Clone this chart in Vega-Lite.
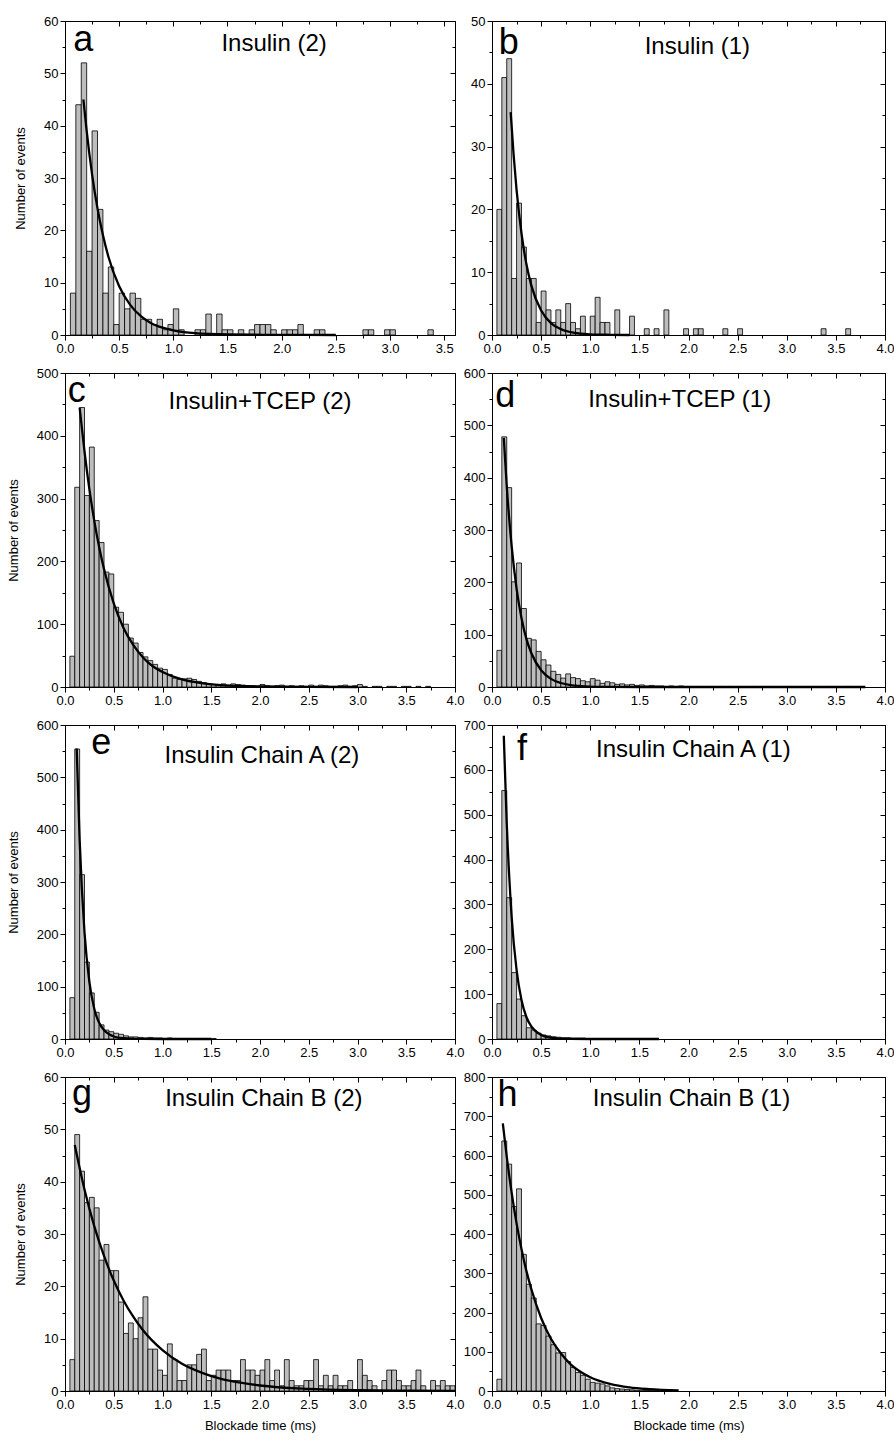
{
"$schema": "https://vega.github.io/schema/vega-lite/v6.json",
"padding": {"left": 6, "top": 14, "right": 2, "bottom": 2},
"background": "white",
"datasets": {
"bars": [
{"p":"a","x":0.05,"x2":0.1,"n":8},{"p":"a","x":0.1,"x2":0.15,"n":44},{"p":"a","x":0.15,"x2":0.2,"n":52},{"p":"a","x":0.2,"x2":0.25,"n":16},{"p":"a","x":0.25,"x2":0.3,"n":39},{"p":"a","x":0.3,"x2":0.35,"n":24},{"p":"a","x":0.35,"x2":0.4,"n":8},{"p":"a","x":0.4,"x2":0.45,"n":13},{"p":"a","x":0.45,"x2":0.5,"n":2},{"p":"a","x":0.5,"x2":0.55,"n":8},{"p":"a","x":0.55,"x2":0.6,"n":5},{"p":"a","x":0.6,"x2":0.65,"n":8},{"p":"a","x":0.65,"x2":0.7,"n":7},{"p":"a","x":0.7,"x2":0.75,"n":3},{"p":"a","x":0.75,"x2":0.8,"n":3},{"p":"a","x":0.8,"x2":0.85,"n":2},{"p":"a","x":0.85,"x2":0.9,"n":3},{"p":"a","x":0.9,"x2":0.95,"n":1},{"p":"a","x":0.95,"x2":1,"n":2},{"p":"a","x":1,"x2":1.05,"n":5},{"p":"a","x":1.05,"x2":1.1,"n":1},{"p":"a","x":1.2,"x2":1.25,"n":1},{"p":"a","x":1.25,"x2":1.3,"n":1},{"p":"a","x":1.3,"x2":1.35,"n":4},{"p":"a","x":1.4,"x2":1.45,"n":4},{"p":"a","x":1.45,"x2":1.5,"n":1},{"p":"a","x":1.5,"x2":1.55,"n":1},{"p":"a","x":1.6,"x2":1.65,"n":1},{"p":"a","x":1.7,"x2":1.75,"n":1},{"p":"a","x":1.75,"x2":1.8,"n":2},{"p":"a","x":1.8,"x2":1.85,"n":2},{"p":"a","x":1.85,"x2":1.9,"n":2},{"p":"a","x":1.9,"x2":1.95,"n":1},{"p":"a","x":2,"x2":2.05,"n":1},{"p":"a","x":2.05,"x2":2.1,"n":1},{"p":"a","x":2.1,"x2":2.15,"n":1},{"p":"a","x":2.15,"x2":2.2,"n":2},{"p":"a","x":2.3,"x2":2.35,"n":1},{"p":"a","x":2.35,"x2":2.4,"n":1},{"p":"a","x":2.75,"x2":2.8,"n":1},{"p":"a","x":2.8,"x2":2.85,"n":1},{"p":"a","x":2.95,"x2":3,"n":1},{"p":"a","x":3,"x2":3.05,"n":1},{"p":"a","x":3.35,"x2":3.4,"n":1},
{"p":"b","x":0.05,"x2":0.1,"n":20},{"p":"b","x":0.1,"x2":0.15,"n":41},{"p":"b","x":0.15,"x2":0.2,"n":44},{"p":"b","x":0.2,"x2":0.25,"n":9},{"p":"b","x":0.25,"x2":0.3,"n":21},{"p":"b","x":0.3,"x2":0.35,"n":14},{"p":"b","x":0.35,"x2":0.4,"n":9},{"p":"b","x":0.4,"x2":0.45,"n":9},{"p":"b","x":0.45,"x2":0.5,"n":2},{"p":"b","x":0.5,"x2":0.55,"n":7},{"p":"b","x":0.55,"x2":0.6,"n":4},{"p":"b","x":0.6,"x2":0.65,"n":2},{"p":"b","x":0.65,"x2":0.7,"n":4},{"p":"b","x":0.7,"x2":0.75,"n":2},{"p":"b","x":0.75,"x2":0.8,"n":5},{"p":"b","x":0.8,"x2":0.85,"n":2},{"p":"b","x":0.85,"x2":0.9,"n":1},{"p":"b","x":0.9,"x2":0.95,"n":3},{"p":"b","x":1,"x2":1.05,"n":3},{"p":"b","x":1.05,"x2":1.1,"n":6},{"p":"b","x":1.1,"x2":1.15,"n":2},{"p":"b","x":1.15,"x2":1.2,"n":2},{"p":"b","x":1.25,"x2":1.3,"n":4},{"p":"b","x":1.4,"x2":1.45,"n":3},{"p":"b","x":1.55,"x2":1.6,"n":1},{"p":"b","x":1.65,"x2":1.7,"n":1},{"p":"b","x":1.75,"x2":1.8,"n":4},{"p":"b","x":1.95,"x2":2,"n":1},{"p":"b","x":2.05,"x2":2.1,"n":1},{"p":"b","x":2.1,"x2":2.15,"n":1},{"p":"b","x":2.35,"x2":2.4,"n":1},{"p":"b","x":2.5,"x2":2.55,"n":1},{"p":"b","x":3.35,"x2":3.4,"n":1},{"p":"b","x":3.6,"x2":3.65,"n":1},
{"p":"c","x":0.05,"x2":0.1,"n":49},{"p":"c","x":0.1,"x2":0.15,"n":318},{"p":"c","x":0.15,"x2":0.2,"n":445},{"p":"c","x":0.2,"x2":0.25,"n":305},{"p":"c","x":0.25,"x2":0.3,"n":382},{"p":"c","x":0.3,"x2":0.35,"n":265},{"p":"c","x":0.35,"x2":0.4,"n":230},{"p":"c","x":0.4,"x2":0.45,"n":183},{"p":"c","x":0.45,"x2":0.5,"n":180},{"p":"c","x":0.5,"x2":0.55,"n":127},{"p":"c","x":0.55,"x2":0.6,"n":119},{"p":"c","x":0.6,"x2":0.65,"n":100},{"p":"c","x":0.65,"x2":0.7,"n":78},{"p":"c","x":0.7,"x2":0.75,"n":70},{"p":"c","x":0.75,"x2":0.8,"n":55},{"p":"c","x":0.8,"x2":0.85,"n":48},{"p":"c","x":0.85,"x2":0.9,"n":42},{"p":"c","x":0.9,"x2":0.95,"n":36},{"p":"c","x":0.95,"x2":1,"n":30},{"p":"c","x":1,"x2":1.05,"n":28},{"p":"c","x":1.05,"x2":1.1,"n":20},{"p":"c","x":1.1,"x2":1.15,"n":14},{"p":"c","x":1.15,"x2":1.2,"n":12},{"p":"c","x":1.2,"x2":1.25,"n":13},{"p":"c","x":1.25,"x2":1.3,"n":14},{"p":"c","x":1.3,"x2":1.35,"n":12},{"p":"c","x":1.35,"x2":1.4,"n":9},{"p":"c","x":1.4,"x2":1.45,"n":7},{"p":"c","x":1.45,"x2":1.5,"n":5},{"p":"c","x":1.5,"x2":1.55,"n":4},{"p":"c","x":1.55,"x2":1.6,"n":3},{"p":"c","x":1.6,"x2":1.65,"n":5},{"p":"c","x":1.65,"x2":1.7,"n":3},{"p":"c","x":1.7,"x2":1.75,"n":5},{"p":"c","x":1.75,"x2":1.8,"n":4},{"p":"c","x":1.8,"x2":1.85,"n":3},{"p":"c","x":1.85,"x2":1.9,"n":2},{"p":"c","x":1.9,"x2":1.95,"n":2},{"p":"c","x":1.95,"x2":2,"n":1},{"p":"c","x":2,"x2":2.05,"n":4},{"p":"c","x":2.05,"x2":2.1,"n":2},{"p":"c","x":2.1,"x2":2.15,"n":1},{"p":"c","x":2.15,"x2":2.2,"n":2},{"p":"c","x":2.2,"x2":2.25,"n":3},{"p":"c","x":2.25,"x2":2.3,"n":1},{"p":"c","x":2.3,"x2":2.35,"n":2},{"p":"c","x":2.35,"x2":2.4,"n":1},{"p":"c","x":2.4,"x2":2.45,"n":2},{"p":"c","x":2.45,"x2":2.5,"n":1},{"p":"c","x":2.5,"x2":2.55,"n":3},{"p":"c","x":2.55,"x2":2.6,"n":1},{"p":"c","x":2.6,"x2":2.65,"n":3},{"p":"c","x":2.65,"x2":2.7,"n":2},{"p":"c","x":2.7,"x2":2.75,"n":1},{"p":"c","x":2.75,"x2":2.8,"n":1},{"p":"c","x":2.8,"x2":2.85,"n":2},{"p":"c","x":2.85,"x2":2.9,"n":3},{"p":"c","x":2.9,"x2":2.95,"n":1},{"p":"c","x":2.95,"x2":3,"n":2},{"p":"c","x":3,"x2":3.05,"n":4},{"p":"c","x":3.05,"x2":3.1,"n":1},{"p":"c","x":3.15,"x2":3.2,"n":1},{"p":"c","x":3.2,"x2":3.25,"n":1},{"p":"c","x":3.3,"x2":3.35,"n":1},{"p":"c","x":3.35,"x2":3.4,"n":1},{"p":"c","x":3.45,"x2":3.5,"n":1},{"p":"c","x":3.5,"x2":3.55,"n":1},{"p":"c","x":3.6,"x2":3.65,"n":1},{"p":"c","x":3.7,"x2":3.75,"n":1},
{"p":"d","x":0.05,"x2":0.1,"n":70},{"p":"d","x":0.1,"x2":0.15,"n":478},{"p":"d","x":0.15,"x2":0.2,"n":381},{"p":"d","x":0.2,"x2":0.25,"n":201},{"p":"d","x":0.25,"x2":0.3,"n":237},{"p":"d","x":0.3,"x2":0.35,"n":150},{"p":"d","x":0.35,"x2":0.4,"n":93},{"p":"d","x":0.4,"x2":0.45,"n":90},{"p":"d","x":0.45,"x2":0.5,"n":68},{"p":"d","x":0.5,"x2":0.55,"n":52},{"p":"d","x":0.55,"x2":0.6,"n":42},{"p":"d","x":0.6,"x2":0.65,"n":30},{"p":"d","x":0.65,"x2":0.7,"n":24},{"p":"d","x":0.7,"x2":0.75,"n":17},{"p":"d","x":0.75,"x2":0.8,"n":25},{"p":"d","x":0.8,"x2":0.85,"n":18},{"p":"d","x":0.85,"x2":0.9,"n":16},{"p":"d","x":0.9,"x2":0.95,"n":12},{"p":"d","x":0.95,"x2":1,"n":10},{"p":"d","x":1,"x2":1.05,"n":16},{"p":"d","x":1.05,"x2":1.1,"n":13},{"p":"d","x":1.1,"x2":1.15,"n":7},{"p":"d","x":1.15,"x2":1.2,"n":10},{"p":"d","x":1.2,"x2":1.25,"n":8},{"p":"d","x":1.25,"x2":1.3,"n":5},{"p":"d","x":1.3,"x2":1.35,"n":6},{"p":"d","x":1.35,"x2":1.4,"n":4},{"p":"d","x":1.4,"x2":1.45,"n":5},{"p":"d","x":1.45,"x2":1.5,"n":3},{"p":"d","x":1.5,"x2":1.55,"n":4},{"p":"d","x":1.55,"x2":1.6,"n":2},{"p":"d","x":1.6,"x2":1.65,"n":3},{"p":"d","x":1.65,"x2":1.7,"n":2},{"p":"d","x":1.7,"x2":1.75,"n":2},{"p":"d","x":1.75,"x2":1.8,"n":1},{"p":"d","x":1.8,"x2":1.85,"n":2},{"p":"d","x":1.85,"x2":1.9,"n":1},{"p":"d","x":1.9,"x2":1.95,"n":2},{"p":"d","x":1.95,"x2":2,"n":1},{"p":"d","x":2,"x2":2.05,"n":1},{"p":"d","x":2.1,"x2":2.15,"n":1},{"p":"d","x":2.2,"x2":2.25,"n":1},{"p":"d","x":2.3,"x2":2.35,"n":1},{"p":"d","x":2.4,"x2":2.45,"n":1},{"p":"d","x":2.5,"x2":2.55,"n":1},{"p":"d","x":2.65,"x2":2.7,"n":1},{"p":"d","x":2.8,"x2":2.85,"n":1},{"p":"d","x":3,"x2":3.05,"n":1},{"p":"d","x":3.2,"x2":3.25,"n":1},{"p":"d","x":3.4,"x2":3.45,"n":1},{"p":"d","x":3.6,"x2":3.65,"n":1},
{"p":"e","x":0.05,"x2":0.1,"n":79},{"p":"e","x":0.1,"x2":0.15,"n":554},{"p":"e","x":0.15,"x2":0.2,"n":314},{"p":"e","x":0.2,"x2":0.25,"n":147},{"p":"e","x":0.25,"x2":0.3,"n":88},{"p":"e","x":0.3,"x2":0.35,"n":51},{"p":"e","x":0.35,"x2":0.4,"n":27},{"p":"e","x":0.4,"x2":0.45,"n":17},{"p":"e","x":0.45,"x2":0.5,"n":14},{"p":"e","x":0.5,"x2":0.55,"n":11},{"p":"e","x":0.55,"x2":0.6,"n":9},{"p":"e","x":0.6,"x2":0.65,"n":6},{"p":"e","x":0.65,"x2":0.7,"n":4},{"p":"e","x":0.7,"x2":0.75,"n":4},{"p":"e","x":0.75,"x2":0.8,"n":3},{"p":"e","x":0.8,"x2":0.85,"n":2},{"p":"e","x":0.85,"x2":0.9,"n":3},{"p":"e","x":0.9,"x2":0.95,"n":2},{"p":"e","x":0.95,"x2":1,"n":2},{"p":"e","x":1,"x2":1.05,"n":1},{"p":"e","x":1.05,"x2":1.1,"n":2},{"p":"e","x":1.1,"x2":1.15,"n":1},{"p":"e","x":1.15,"x2":1.2,"n":1},{"p":"e","x":1.2,"x2":1.25,"n":1},{"p":"e","x":1.25,"x2":1.3,"n":1},{"p":"e","x":1.35,"x2":1.4,"n":1},{"p":"e","x":1.4,"x2":1.45,"n":1},{"p":"e","x":1.5,"x2":1.55,"n":1},
{"p":"f","x":0.05,"x2":0.1,"n":79},{"p":"f","x":0.1,"x2":0.15,"n":554},{"p":"f","x":0.15,"x2":0.2,"n":315},{"p":"f","x":0.2,"x2":0.25,"n":148},{"p":"f","x":0.25,"x2":0.3,"n":89},{"p":"f","x":0.3,"x2":0.35,"n":52},{"p":"f","x":0.35,"x2":0.4,"n":25},{"p":"f","x":0.4,"x2":0.45,"n":20},{"p":"f","x":0.45,"x2":0.5,"n":13},{"p":"f","x":0.5,"x2":0.55,"n":9},{"p":"f","x":0.55,"x2":0.6,"n":7},{"p":"f","x":0.6,"x2":0.65,"n":5},{"p":"f","x":0.65,"x2":0.7,"n":4},{"p":"f","x":0.7,"x2":0.75,"n":3},{"p":"f","x":0.75,"x2":0.8,"n":3},{"p":"f","x":0.8,"x2":0.85,"n":2},{"p":"f","x":0.85,"x2":0.9,"n":2},{"p":"f","x":0.9,"x2":0.95,"n":2},{"p":"f","x":0.95,"x2":1,"n":1},{"p":"f","x":1,"x2":1.05,"n":1},{"p":"f","x":1.05,"x2":1.1,"n":1},{"p":"f","x":1.1,"x2":1.15,"n":1},{"p":"f","x":1.2,"x2":1.25,"n":1},{"p":"f","x":1.3,"x2":1.35,"n":1},{"p":"f","x":1.4,"x2":1.45,"n":1},{"p":"f","x":1.5,"x2":1.55,"n":1},
{"p":"g","x":0.05,"x2":0.1,"n":6},{"p":"g","x":0.1,"x2":0.15,"n":49},{"p":"g","x":0.15,"x2":0.2,"n":42},{"p":"g","x":0.2,"x2":0.25,"n":36},{"p":"g","x":0.25,"x2":0.3,"n":37},{"p":"g","x":0.3,"x2":0.35,"n":35},{"p":"g","x":0.35,"x2":0.4,"n":25},{"p":"g","x":0.4,"x2":0.45,"n":28},{"p":"g","x":0.45,"x2":0.5,"n":23},{"p":"g","x":0.5,"x2":0.55,"n":23},{"p":"g","x":0.55,"x2":0.6,"n":17},{"p":"g","x":0.6,"x2":0.65,"n":11},{"p":"g","x":0.65,"x2":0.7,"n":13},{"p":"g","x":0.7,"x2":0.75,"n":10},{"p":"g","x":0.75,"x2":0.8,"n":14},{"p":"g","x":0.8,"x2":0.85,"n":18},{"p":"g","x":0.85,"x2":0.9,"n":8},{"p":"g","x":0.9,"x2":0.95,"n":8},{"p":"g","x":0.95,"x2":1,"n":4},{"p":"g","x":1,"x2":1.05,"n":3},{"p":"g","x":1.05,"x2":1.1,"n":9},{"p":"g","x":1.1,"x2":1.15,"n":6},{"p":"g","x":1.15,"x2":1.2,"n":2},{"p":"g","x":1.2,"x2":1.25,"n":2},{"p":"g","x":1.25,"x2":1.3,"n":5},{"p":"g","x":1.3,"x2":1.35,"n":5},{"p":"g","x":1.35,"x2":1.4,"n":7},{"p":"g","x":1.4,"x2":1.45,"n":8},{"p":"g","x":1.45,"x2":1.5,"n":2},{"p":"g","x":1.5,"x2":1.55,"n":3},{"p":"g","x":1.55,"x2":1.6,"n":4},{"p":"g","x":1.6,"x2":1.65,"n":4},{"p":"g","x":1.65,"x2":1.7,"n":4},{"p":"g","x":1.7,"x2":1.75,"n":2},{"p":"g","x":1.75,"x2":1.8,"n":2},{"p":"g","x":1.8,"x2":1.85,"n":6},{"p":"g","x":1.85,"x2":1.9,"n":4},{"p":"g","x":1.9,"x2":1.95,"n":4},{"p":"g","x":1.95,"x2":2,"n":3},{"p":"g","x":2,"x2":2.05,"n":4},{"p":"g","x":2.05,"x2":2.1,"n":6},{"p":"g","x":2.1,"x2":2.15,"n":2},{"p":"g","x":2.15,"x2":2.2,"n":4},{"p":"g","x":2.2,"x2":2.25,"n":1},{"p":"g","x":2.25,"x2":2.3,"n":6},{"p":"g","x":2.3,"x2":2.35,"n":2},{"p":"g","x":2.35,"x2":2.4,"n":1},{"p":"g","x":2.4,"x2":2.45,"n":1},{"p":"g","x":2.45,"x2":2.5,"n":2},{"p":"g","x":2.5,"x2":2.55,"n":2},{"p":"g","x":2.55,"x2":2.6,"n":6},{"p":"g","x":2.6,"x2":2.65,"n":1},{"p":"g","x":2.65,"x2":2.7,"n":3},{"p":"g","x":2.7,"x2":2.75,"n":1},{"p":"g","x":2.75,"x2":2.8,"n":3},{"p":"g","x":2.8,"x2":2.85,"n":1},{"p":"g","x":2.85,"x2":2.9,"n":1},{"p":"g","x":2.9,"x2":2.95,"n":2},{"p":"g","x":3,"x2":3.05,"n":6},{"p":"g","x":3.05,"x2":3.1,"n":3},{"p":"g","x":3.1,"x2":3.15,"n":2},{"p":"g","x":3.15,"x2":3.2,"n":1},{"p":"g","x":3.25,"x2":3.3,"n":2},{"p":"g","x":3.3,"x2":3.35,"n":4},{"p":"g","x":3.35,"x2":3.4,"n":4},{"p":"g","x":3.4,"x2":3.45,"n":2},{"p":"g","x":3.45,"x2":3.5,"n":1},{"p":"g","x":3.5,"x2":3.55,"n":1},{"p":"g","x":3.55,"x2":3.6,"n":2},{"p":"g","x":3.6,"x2":3.65,"n":4},{"p":"g","x":3.65,"x2":3.7,"n":1},{"p":"g","x":3.75,"x2":3.8,"n":2},{"p":"g","x":3.8,"x2":3.85,"n":1},{"p":"g","x":3.85,"x2":3.9,"n":2},{"p":"g","x":3.9,"x2":3.95,"n":1},{"p":"g","x":3.95,"x2":4,"n":1},
{"p":"h","x":0.05,"x2":0.1,"n":30},{"p":"h","x":0.1,"x2":0.15,"n":637},{"p":"h","x":0.15,"x2":0.2,"n":578},{"p":"h","x":0.2,"x2":0.25,"n":470},{"p":"h","x":0.25,"x2":0.3,"n":515},{"p":"h","x":0.3,"x2":0.35,"n":348},{"p":"h","x":0.35,"x2":0.4,"n":272},{"p":"h","x":0.4,"x2":0.45,"n":237},{"p":"h","x":0.45,"x2":0.5,"n":171},{"p":"h","x":0.5,"x2":0.55,"n":167},{"p":"h","x":0.55,"x2":0.6,"n":140},{"p":"h","x":0.6,"x2":0.65,"n":118},{"p":"h","x":0.65,"x2":0.7,"n":97},{"p":"h","x":0.7,"x2":0.75,"n":98},{"p":"h","x":0.75,"x2":0.8,"n":75},{"p":"h","x":0.8,"x2":0.85,"n":60},{"p":"h","x":0.85,"x2":0.9,"n":47},{"p":"h","x":0.9,"x2":0.95,"n":40},{"p":"h","x":0.95,"x2":1,"n":30},{"p":"h","x":1,"x2":1.05,"n":22},{"p":"h","x":1.05,"x2":1.1,"n":20},{"p":"h","x":1.1,"x2":1.15,"n":18},{"p":"h","x":1.15,"x2":1.2,"n":13},{"p":"h","x":1.2,"x2":1.25,"n":8},{"p":"h","x":1.25,"x2":1.3,"n":6},{"p":"h","x":1.3,"x2":1.35,"n":5},{"p":"h","x":1.35,"x2":1.4,"n":4},{"p":"h","x":1.4,"x2":1.45,"n":3},{"p":"h","x":1.45,"x2":1.5,"n":2},{"p":"h","x":1.5,"x2":1.55,"n":2},{"p":"h","x":1.55,"x2":1.6,"n":1},{"p":"h","x":1.6,"x2":1.65,"n":1},{"p":"h","x":1.65,"x2":1.7,"n":1},{"p":"h","x":1.75,"x2":1.8,"n":1}
],
"fits": [
{"p":"a","x":0.17,"y":45},{"p":"a","x":0.2,"y":39},{"p":"a","x":0.25,"y":30.7},{"p":"a","x":0.3,"y":24.2},{"p":"a","x":0.35,"y":19.1},{"p":"a","x":0.4,"y":15},{"p":"a","x":0.5,"y":9.3},{"p":"a","x":0.6,"y":5.8},{"p":"a","x":0.7,"y":3.6},{"p":"a","x":0.8,"y":2.2},{"p":"a","x":0.9,"y":1.4},{"p":"a","x":1,"y":0.9},{"p":"a","x":1.2,"y":0.35},{"p":"a","x":1.5,"y":0.1},{"p":"a","x":2,"y":0.02},{"p":"a","x":2.5,"y":0},
{"p":"b","x":0.19,"y":35.5},{"p":"b","x":0.22,"y":28.7},{"p":"b","x":0.25,"y":23.1},{"p":"b","x":0.3,"y":16.2},{"p":"b","x":0.35,"y":11.3},{"p":"b","x":0.4,"y":7.9},{"p":"b","x":0.5,"y":3.9},{"p":"b","x":0.6,"y":1.9},{"p":"b","x":0.7,"y":0.93},{"p":"b","x":0.8,"y":0.46},{"p":"b","x":0.9,"y":0.22},{"p":"b","x":1,"y":0.11},{"p":"b","x":1.2,"y":0.03},{"p":"b","x":1.4,"y":0},
{"p":"c","x":0.15,"y":445},{"p":"c","x":0.2,"y":375},{"p":"c","x":0.25,"y":315},{"p":"c","x":0.3,"y":265},{"p":"c","x":0.35,"y":223},{"p":"c","x":0.4,"y":188},{"p":"c","x":0.5,"y":133},{"p":"c","x":0.6,"y":94},{"p":"c","x":0.7,"y":67},{"p":"c","x":0.8,"y":47},{"p":"c","x":0.9,"y":33},{"p":"c","x":1,"y":24},{"p":"c","x":1.2,"y":12},{"p":"c","x":1.4,"y":6},{"p":"c","x":1.6,"y":3},{"p":"c","x":2,"y":0.8},{"p":"c","x":2.5,"y":0.2},{"p":"c","x":3,"y":0},
{"p":"d","x":0.12,"y":476},{"p":"d","x":0.15,"y":384},{"p":"d","x":0.2,"y":269},{"p":"d","x":0.25,"y":188},{"p":"d","x":0.3,"y":132},{"p":"d","x":0.35,"y":92},{"p":"d","x":0.4,"y":65},{"p":"d","x":0.5,"y":32},{"p":"d","x":0.6,"y":15.5},{"p":"d","x":0.7,"y":7.6},{"p":"d","x":0.8,"y":3.7},{"p":"d","x":1,"y":0.9},{"p":"d","x":1.2,"y":0.2},{"p":"d","x":1.5,"y":0},{"p":"d","x":3.8,"y":0},
{"p":"e","x":0.12,"y":555},{"p":"e","x":0.15,"y":381},{"p":"e","x":0.2,"y":204},{"p":"e","x":0.25,"y":109},{"p":"e","x":0.3,"y":58},{"p":"e","x":0.35,"y":31},{"p":"e","x":0.4,"y":17},{"p":"e","x":0.5,"y":4.8},{"p":"e","x":0.6,"y":1.4},{"p":"e","x":0.7,"y":0.4},{"p":"e","x":0.8,"y":0.1},{"p":"e","x":1,"y":0},{"p":"e","x":1.5,"y":0},
{"p":"f","x":0.12,"y":676},{"p":"f","x":0.15,"y":481},{"p":"f","x":0.2,"y":272},{"p":"f","x":0.25,"y":154},{"p":"f","x":0.3,"y":87},{"p":"f","x":0.35,"y":49},{"p":"f","x":0.4,"y":28},{"p":"f","x":0.5,"y":9},{"p":"f","x":0.6,"y":2.9},{"p":"f","x":0.7,"y":0.9},{"p":"f","x":0.8,"y":0.3},{"p":"f","x":1,"y":0},{"p":"f","x":1.7,"y":0},
{"p":"g","x":0.1,"y":47},{"p":"g","x":0.2,"y":38.5},{"p":"g","x":0.3,"y":31.5},{"p":"g","x":0.4,"y":25.8},{"p":"g","x":0.5,"y":21.1},{"p":"g","x":0.6,"y":17.3},{"p":"g","x":0.7,"y":14.2},{"p":"g","x":0.8,"y":11.6},{"p":"g","x":1,"y":7.8},{"p":"g","x":1.2,"y":5.2},{"p":"g","x":1.4,"y":3.5},{"p":"g","x":1.6,"y":2.3},{"p":"g","x":1.8,"y":1.6},{"p":"g","x":2,"y":1.05},{"p":"g","x":2.5,"y":0.4},{"p":"g","x":3,"y":0.14},{"p":"g","x":3.5,"y":0.05},{"p":"g","x":4,"y":0.02},
{"p":"h","x":0.11,"y":682},{"p":"h","x":0.15,"y":597},{"p":"h","x":0.2,"y":505},{"p":"h","x":0.25,"y":427},{"p":"h","x":0.3,"y":362},{"p":"h","x":0.35,"y":306},{"p":"h","x":0.4,"y":260},{"p":"h","x":0.5,"y":186},{"p":"h","x":0.6,"y":133},{"p":"h","x":0.7,"y":96},{"p":"h","x":0.8,"y":68},{"p":"h","x":0.9,"y":49},{"p":"h","x":1,"y":35},{"p":"h","x":1.2,"y":18},{"p":"h","x":1.4,"y":9},{"p":"h","x":1.6,"y":4.7},{"p":"h","x":1.9,"y":1.7}
]
},
"columns": 2,
"spacing": {"row": 38, "column": 37},
"bounds": "flush",
"concat": [
{"width": 390, "height": 314, "layer": [
{"data": {"name": "bars"}, "transform": [{"filter": "datum.p == 'a'"}], "mark": {"type": "rect", "fill": "#bdbdbd", "stroke": "#000000", "strokeWidth": 0.8},
"encoding": {"x": {"field": "x", "type": "quantitative", "scale": {"domain": [0, 3.6], "nice": false, "zero": false}, "axis": {"orient": "bottom", "values": [0,0.25,0.5,0.75,1,1.25,1.5,1.75,2,2.25,2.5,2.75,3,3.25,3.5], "labelExpr": "abs(datum.value*2-round(datum.value*2))<0.001 ? format(datum.value,'.1f') : ''", "tickSize": {"condition": {"test": "abs(datum.value*2-round(datum.value*2))<0.001", "value": 5}, "value": 3}, "title": null}},
"x2": {"field": "x2"},
"y": {"field": "n", "type": "quantitative", "scale": {"domain": [0, 60], "nice": false}, "axis": {"orient": "left", "values": [0,5,10,15,20,25,30,35,40,45,50,55,60], "labelExpr": "datum.value % 10 == 0 ? datum.label : ''", "tickSize": {"condition": {"test": "datum.value % 10 == 0", "value": 5}, "value": 3}, "title": "Number of events"}},
"y2": {"datum": 0}}},
{"data": {"name": "fits"}, "transform": [{"filter": "datum.p == 'a'"}], "mark": {"type": "line", "stroke": "#000000", "strokeWidth": 2.3, "interpolate": "monotone"},
"encoding": {"x": {"field": "x", "type": "quantitative", "axis": {"orient": "top", "values": [0,0.25,0.5,0.75,1,1.25,1.5,1.75,2,2.25,2.5,2.75,3,3.25,3.5], "labels": false, "tickSize": {"condition": {"test": "abs(datum.value*2-round(datum.value*2))<0.001", "value": -5}, "value": -3}, "title": null}},
"y": {"field": "y", "type": "quantitative", "axis": {"orient": "right", "values": [0,5,10,15,20,25,30,35,40,45,50,55,60], "labels": false, "tickSize": {"condition": {"test": "datum.value % 10 == 0", "value": -5}, "value": -3}, "title": null}}}},
{"data": {"values": [{}]}, "mark": {"type": "text", "text": "a", "font": "Liberation Sans", "fontSize": 36, "align": "left", "baseline": "alphabetic"}, "encoding": {"x": {"datum": 0.075, "type": "quantitative", "axis": null}, "y": {"datum": 54.3, "type": "quantitative", "axis": null}}},
{"data": {"values": [{}]}, "mark": {"type": "text", "text": "Insulin (2)", "font": "Liberation Sans", "fontSize": 24, "align": "center", "baseline": "alphabetic"}, "encoding": {"x": {"datum": 1.93, "type": "quantitative", "axis": null}, "y": {"datum": 54.3, "type": "quantitative", "axis": null}}}
], "resolve": {"axis": {"x": "independent", "y": "independent"}}},
{"width": 393, "height": 314, "layer": [
{"data": {"name": "bars"}, "transform": [{"filter": "datum.p == 'b'"}], "mark": {"type": "rect", "fill": "#bdbdbd", "stroke": "#000000", "strokeWidth": 0.8},
"encoding": {"x": {"field": "x", "type": "quantitative", "scale": {"domain": [0, 4], "nice": false, "zero": false}, "axis": {"orient": "bottom", "values": [0,0.25,0.5,0.75,1,1.25,1.5,1.75,2,2.25,2.5,2.75,3,3.25,3.5,3.75,4], "labelExpr": "abs(datum.value*2-round(datum.value*2))<0.001 ? format(datum.value,'.1f') : ''", "tickSize": {"condition": {"test": "abs(datum.value*2-round(datum.value*2))<0.001", "value": 5}, "value": 3}, "title": null}},
"x2": {"field": "x2"},
"y": {"field": "n", "type": "quantitative", "scale": {"domain": [0, 50], "nice": false}, "axis": {"orient": "left", "values": [0,5,10,15,20,25,30,35,40,45,50], "labelExpr": "datum.value % 10 == 0 ? datum.label : ''", "tickSize": {"condition": {"test": "datum.value % 10 == 0", "value": 5}, "value": 3}, "title": null}},
"y2": {"datum": 0}}},
{"data": {"name": "fits"}, "transform": [{"filter": "datum.p == 'b'"}], "mark": {"type": "line", "stroke": "#000000", "strokeWidth": 2.3, "interpolate": "monotone"},
"encoding": {"x": {"field": "x", "type": "quantitative", "axis": {"orient": "top", "values": [0,0.25,0.5,0.75,1,1.25,1.5,1.75,2,2.25,2.5,2.75,3,3.25,3.5,3.75,4], "labels": false, "tickSize": {"condition": {"test": "abs(datum.value*2-round(datum.value*2))<0.001", "value": -5}, "value": -3}, "title": null}},
"y": {"field": "y", "type": "quantitative", "axis": {"orient": "right", "values": [0,5,10,15,20,25,30,35,40,45,50], "labels": false, "tickSize": {"condition": {"test": "datum.value % 10 == 0", "value": -5}, "value": -3}, "title": null}}}},
{"data": {"values": [{}]}, "mark": {"type": "text", "text": "b", "font": "Liberation Sans", "fontSize": 36, "align": "left", "baseline": "alphabetic"}, "encoding": {"x": {"datum": 0.068, "type": "quantitative", "axis": null}, "y": {"datum": 44.8, "type": "quantitative", "axis": null}}},
{"data": {"values": [{}]}, "mark": {"type": "text", "text": "Insulin (1)", "font": "Liberation Sans", "fontSize": 24, "align": "center", "baseline": "alphabetic"}, "encoding": {"x": {"datum": 2.09, "type": "quantitative", "axis": null}, "y": {"datum": 44.8, "type": "quantitative", "axis": null}}}
], "resolve": {"axis": {"x": "independent", "y": "independent"}}},
{"width": 390, "height": 314, "layer": [
{"data": {"name": "bars"}, "transform": [{"filter": "datum.p == 'c'"}], "mark": {"type": "rect", "fill": "#bdbdbd", "stroke": "#000000", "strokeWidth": 0.8},
"encoding": {"x": {"field": "x", "type": "quantitative", "scale": {"domain": [0, 4], "nice": false, "zero": false}, "axis": {"orient": "bottom", "values": [0,0.25,0.5,0.75,1,1.25,1.5,1.75,2,2.25,2.5,2.75,3,3.25,3.5,3.75,4], "labelExpr": "abs(datum.value*2-round(datum.value*2))<0.001 ? format(datum.value,'.1f') : ''", "tickSize": {"condition": {"test": "abs(datum.value*2-round(datum.value*2))<0.001", "value": 5}, "value": 3}, "title": null}},
"x2": {"field": "x2"},
"y": {"field": "n", "type": "quantitative", "scale": {"domain": [0, 500], "nice": false}, "axis": {"orient": "left", "values": [0,50,100,150,200,250,300,350,400,450,500], "labelExpr": "datum.value % 100 == 0 ? datum.label : ''", "tickSize": {"condition": {"test": "datum.value % 100 == 0", "value": 5}, "value": 3}, "title": "Number of events"}},
"y2": {"datum": 0}}},
{"data": {"name": "fits"}, "transform": [{"filter": "datum.p == 'c'"}], "mark": {"type": "line", "stroke": "#000000", "strokeWidth": 2.3, "interpolate": "monotone"},
"encoding": {"x": {"field": "x", "type": "quantitative", "axis": {"orient": "top", "values": [0,0.25,0.5,0.75,1,1.25,1.5,1.75,2,2.25,2.5,2.75,3,3.25,3.5,3.75,4], "labels": false, "tickSize": {"condition": {"test": "abs(datum.value*2-round(datum.value*2))<0.001", "value": -5}, "value": -3}, "title": null}},
"y": {"field": "y", "type": "quantitative", "axis": {"orient": "right", "values": [0,50,100,150,200,250,300,350,400,450,500], "labels": false, "tickSize": {"condition": {"test": "datum.value % 100 == 0", "value": -5}, "value": -3}, "title": null}}}},
{"data": {"values": [{}]}, "mark": {"type": "text", "text": "c", "font": "Liberation Sans", "fontSize": 36, "align": "left", "baseline": "alphabetic"}, "encoding": {"x": {"datum": 0.028, "type": "quantitative", "axis": null}, "y": {"datum": 454, "type": "quantitative", "axis": null}}},
{"data": {"values": [{}]}, "mark": {"type": "text", "text": "Insulin+TCEP (2)", "font": "Liberation Sans", "fontSize": 24, "align": "center", "baseline": "alphabetic"}, "encoding": {"x": {"datum": 2.0, "type": "quantitative", "axis": null}, "y": {"datum": 443, "type": "quantitative", "axis": null}}}
], "resolve": {"axis": {"x": "independent", "y": "independent"}}},
{"width": 393, "height": 314, "layer": [
{"data": {"name": "bars"}, "transform": [{"filter": "datum.p == 'd'"}], "mark": {"type": "rect", "fill": "#bdbdbd", "stroke": "#000000", "strokeWidth": 0.8},
"encoding": {"x": {"field": "x", "type": "quantitative", "scale": {"domain": [0, 4], "nice": false, "zero": false}, "axis": {"orient": "bottom", "values": [0,0.25,0.5,0.75,1,1.25,1.5,1.75,2,2.25,2.5,2.75,3,3.25,3.5,3.75,4], "labelExpr": "abs(datum.value*2-round(datum.value*2))<0.001 ? format(datum.value,'.1f') : ''", "tickSize": {"condition": {"test": "abs(datum.value*2-round(datum.value*2))<0.001", "value": 5}, "value": 3}, "title": null}},
"x2": {"field": "x2"},
"y": {"field": "n", "type": "quantitative", "scale": {"domain": [0, 600], "nice": false}, "axis": {"orient": "left", "values": [0,50,100,150,200,250,300,350,400,450,500,550,600], "labelExpr": "datum.value % 100 == 0 ? datum.label : ''", "tickSize": {"condition": {"test": "datum.value % 100 == 0", "value": 5}, "value": 3}, "title": null}},
"y2": {"datum": 0}}},
{"data": {"name": "fits"}, "transform": [{"filter": "datum.p == 'd'"}], "mark": {"type": "line", "stroke": "#000000", "strokeWidth": 2.3, "interpolate": "monotone"},
"encoding": {"x": {"field": "x", "type": "quantitative", "axis": {"orient": "top", "values": [0,0.25,0.5,0.75,1,1.25,1.5,1.75,2,2.25,2.5,2.75,3,3.25,3.5,3.75,4], "labels": false, "tickSize": {"condition": {"test": "abs(datum.value*2-round(datum.value*2))<0.001", "value": -5}, "value": -3}, "title": null}},
"y": {"field": "y", "type": "quantitative", "axis": {"orient": "right", "values": [0,50,100,150,200,250,300,350,400,450,500,550,600], "labels": false, "tickSize": {"condition": {"test": "datum.value % 100 == 0", "value": -5}, "value": -3}, "title": null}}}},
{"data": {"values": [{}]}, "mark": {"type": "text", "text": "d", "font": "Liberation Sans", "fontSize": 36, "align": "left", "baseline": "alphabetic"}, "encoding": {"x": {"datum": 0.034, "type": "quantitative", "axis": null}, "y": {"datum": 535, "type": "quantitative", "axis": null}}},
{"data": {"values": [{}]}, "mark": {"type": "text", "text": "Insulin+TCEP (1)", "font": "Liberation Sans", "fontSize": 24, "align": "center", "baseline": "alphabetic"}, "encoding": {"x": {"datum": 1.91, "type": "quantitative", "axis": null}, "y": {"datum": 535, "type": "quantitative", "axis": null}}}
], "resolve": {"axis": {"x": "independent", "y": "independent"}}},
{"width": 390, "height": 314, "layer": [
{"data": {"name": "bars"}, "transform": [{"filter": "datum.p == 'e'"}], "mark": {"type": "rect", "fill": "#bdbdbd", "stroke": "#000000", "strokeWidth": 0.8},
"encoding": {"x": {"field": "x", "type": "quantitative", "scale": {"domain": [0, 4], "nice": false, "zero": false}, "axis": {"orient": "bottom", "values": [0,0.25,0.5,0.75,1,1.25,1.5,1.75,2,2.25,2.5,2.75,3,3.25,3.5,3.75,4], "labelExpr": "abs(datum.value*2-round(datum.value*2))<0.001 ? format(datum.value,'.1f') : ''", "tickSize": {"condition": {"test": "abs(datum.value*2-round(datum.value*2))<0.001", "value": 5}, "value": 3}, "title": null}},
"x2": {"field": "x2"},
"y": {"field": "n", "type": "quantitative", "scale": {"domain": [0, 600], "nice": false}, "axis": {"orient": "left", "values": [0,50,100,150,200,250,300,350,400,450,500,550,600], "labelExpr": "datum.value % 100 == 0 ? datum.label : ''", "tickSize": {"condition": {"test": "datum.value % 100 == 0", "value": 5}, "value": 3}, "title": "Number of events"}},
"y2": {"datum": 0}}},
{"data": {"name": "fits"}, "transform": [{"filter": "datum.p == 'e'"}], "mark": {"type": "line", "stroke": "#000000", "strokeWidth": 2.3, "interpolate": "monotone"},
"encoding": {"x": {"field": "x", "type": "quantitative", "axis": {"orient": "top", "values": [0,0.25,0.5,0.75,1,1.25,1.5,1.75,2,2.25,2.5,2.75,3,3.25,3.5,3.75,4], "labels": false, "tickSize": {"condition": {"test": "abs(datum.value*2-round(datum.value*2))<0.001", "value": -5}, "value": -3}, "title": null}},
"y": {"field": "y", "type": "quantitative", "axis": {"orient": "right", "values": [0,50,100,150,200,250,300,350,400,450,500,550,600], "labels": false, "tickSize": {"condition": {"test": "datum.value % 100 == 0", "value": -5}, "value": -3}, "title": null}}}},
{"data": {"values": [{}]}, "mark": {"type": "text", "text": "e", "font": "Liberation Sans", "fontSize": 36, "align": "left", "baseline": "alphabetic"}, "encoding": {"x": {"datum": 0.27, "type": "quantitative", "axis": null}, "y": {"datum": 545, "type": "quantitative", "axis": null}}},
{"data": {"values": [{}]}, "mark": {"type": "text", "text": "Insulin Chain A (2)", "font": "Liberation Sans", "fontSize": 24, "align": "center", "baseline": "alphabetic"}, "encoding": {"x": {"datum": 2.02, "type": "quantitative", "axis": null}, "y": {"datum": 527, "type": "quantitative", "axis": null}}}
], "resolve": {"axis": {"x": "independent", "y": "independent"}}},
{"width": 393, "height": 314, "layer": [
{"data": {"name": "bars"}, "transform": [{"filter": "datum.p == 'f'"}], "mark": {"type": "rect", "fill": "#bdbdbd", "stroke": "#000000", "strokeWidth": 0.8},
"encoding": {"x": {"field": "x", "type": "quantitative", "scale": {"domain": [0, 4], "nice": false, "zero": false}, "axis": {"orient": "bottom", "values": [0,0.25,0.5,0.75,1,1.25,1.5,1.75,2,2.25,2.5,2.75,3,3.25,3.5,3.75,4], "labelExpr": "abs(datum.value*2-round(datum.value*2))<0.001 ? format(datum.value,'.1f') : ''", "tickSize": {"condition": {"test": "abs(datum.value*2-round(datum.value*2))<0.001", "value": 5}, "value": 3}, "title": null}},
"x2": {"field": "x2"},
"y": {"field": "n", "type": "quantitative", "scale": {"domain": [0, 700], "nice": false}, "axis": {"orient": "left", "values": [0,50,100,150,200,250,300,350,400,450,500,550,600,650,700], "labelExpr": "datum.value % 100 == 0 ? datum.label : ''", "tickSize": {"condition": {"test": "datum.value % 100 == 0", "value": 5}, "value": 3}, "title": null}},
"y2": {"datum": 0}}},
{"data": {"name": "fits"}, "transform": [{"filter": "datum.p == 'f'"}], "mark": {"type": "line", "stroke": "#000000", "strokeWidth": 2.3, "interpolate": "monotone"},
"encoding": {"x": {"field": "x", "type": "quantitative", "axis": {"orient": "top", "values": [0,0.25,0.5,0.75,1,1.25,1.5,1.75,2,2.25,2.5,2.75,3,3.25,3.5,3.75,4], "labels": false, "tickSize": {"condition": {"test": "abs(datum.value*2-round(datum.value*2))<0.001", "value": -5}, "value": -3}, "title": null}},
"y": {"field": "y", "type": "quantitative", "axis": {"orient": "right", "values": [0,50,100,150,200,250,300,350,400,450,500,550,600,650,700], "labels": false, "tickSize": {"condition": {"test": "datum.value % 100 == 0", "value": -5}, "value": -3}, "title": null}}}},
{"data": {"values": [{}]}, "mark": {"type": "text", "text": "f", "font": "Liberation Sans", "fontSize": 36, "align": "left", "baseline": "alphabetic"}, "encoding": {"x": {"datum": 0.254, "type": "quantitative", "axis": null}, "y": {"datum": 623, "type": "quantitative", "axis": null}}},
{"data": {"values": [{}]}, "mark": {"type": "text", "text": "Insulin Chain A (1)", "font": "Liberation Sans", "fontSize": 24, "align": "center", "baseline": "alphabetic"}, "encoding": {"x": {"datum": 2.05, "type": "quantitative", "axis": null}, "y": {"datum": 628, "type": "quantitative", "axis": null}}}
], "resolve": {"axis": {"x": "independent", "y": "independent"}}},
{"width": 390, "height": 314, "layer": [
{"data": {"name": "bars"}, "transform": [{"filter": "datum.p == 'g'"}], "mark": {"type": "rect", "fill": "#bdbdbd", "stroke": "#000000", "strokeWidth": 0.8},
"encoding": {"x": {"field": "x", "type": "quantitative", "scale": {"domain": [0, 4], "nice": false, "zero": false}, "axis": {"orient": "bottom", "values": [0,0.25,0.5,0.75,1,1.25,1.5,1.75,2,2.25,2.5,2.75,3,3.25,3.5,3.75,4], "labelExpr": "abs(datum.value*2-round(datum.value*2))<0.001 ? format(datum.value,'.1f') : ''", "tickSize": {"condition": {"test": "abs(datum.value*2-round(datum.value*2))<0.001", "value": 5}, "value": 3}, "title": "Blockade time (ms)", "titlePadding": 8}},
"x2": {"field": "x2"},
"y": {"field": "n", "type": "quantitative", "scale": {"domain": [0, 60], "nice": false}, "axis": {"orient": "left", "values": [0,5,10,15,20,25,30,35,40,45,50,55,60], "labelExpr": "datum.value % 10 == 0 ? datum.label : ''", "tickSize": {"condition": {"test": "datum.value % 10 == 0", "value": 5}, "value": 3}, "title": "Number of events"}},
"y2": {"datum": 0}}},
{"data": {"name": "fits"}, "transform": [{"filter": "datum.p == 'g'"}], "mark": {"type": "line", "stroke": "#000000", "strokeWidth": 2.3, "interpolate": "monotone"},
"encoding": {"x": {"field": "x", "type": "quantitative", "axis": {"orient": "top", "values": [0,0.25,0.5,0.75,1,1.25,1.5,1.75,2,2.25,2.5,2.75,3,3.25,3.5,3.75,4], "labels": false, "tickSize": {"condition": {"test": "abs(datum.value*2-round(datum.value*2))<0.001", "value": -5}, "value": -3}, "title": null}},
"y": {"field": "y", "type": "quantitative", "axis": {"orient": "right", "values": [0,5,10,15,20,25,30,35,40,45,50,55,60], "labels": false, "tickSize": {"condition": {"test": "datum.value % 10 == 0", "value": -5}, "value": -3}, "title": null}}}},
{"data": {"values": [{}]}, "mark": {"type": "text", "text": "g", "font": "Liberation Sans", "fontSize": 36, "align": "left", "baseline": "alphabetic"}, "encoding": {"x": {"datum": 0.072, "type": "quantitative", "axis": null}, "y": {"datum": 54.7, "type": "quantitative", "axis": null}}},
{"data": {"values": [{}]}, "mark": {"type": "text", "text": "Insulin Chain B (2)", "font": "Liberation Sans", "fontSize": 24, "align": "center", "baseline": "alphabetic"}, "encoding": {"x": {"datum": 2.04, "type": "quantitative", "axis": null}, "y": {"datum": 54.4, "type": "quantitative", "axis": null}}}
], "resolve": {"axis": {"x": "independent", "y": "independent"}}},
{"width": 393, "height": 314, "layer": [
{"data": {"name": "bars"}, "transform": [{"filter": "datum.p == 'h'"}], "mark": {"type": "rect", "fill": "#bdbdbd", "stroke": "#000000", "strokeWidth": 0.8},
"encoding": {"x": {"field": "x", "type": "quantitative", "scale": {"domain": [0, 4], "nice": false, "zero": false}, "axis": {"orient": "bottom", "values": [0,0.25,0.5,0.75,1,1.25,1.5,1.75,2,2.25,2.5,2.75,3,3.25,3.5,3.75,4], "labelExpr": "abs(datum.value*2-round(datum.value*2))<0.001 ? format(datum.value,'.1f') : ''", "tickSize": {"condition": {"test": "abs(datum.value*2-round(datum.value*2))<0.001", "value": 5}, "value": 3}, "title": "Blockade time (ms)", "titlePadding": 8}},
"x2": {"field": "x2"},
"y": {"field": "n", "type": "quantitative", "scale": {"domain": [0, 800], "nice": false}, "axis": {"orient": "left", "values": [0,50,100,150,200,250,300,350,400,450,500,550,600,650,700,750,800], "labelExpr": "datum.value % 100 == 0 ? datum.label : ''", "tickSize": {"condition": {"test": "datum.value % 100 == 0", "value": 5}, "value": 3}, "title": null}},
"y2": {"datum": 0}}},
{"data": {"name": "fits"}, "transform": [{"filter": "datum.p == 'h'"}], "mark": {"type": "line", "stroke": "#000000", "strokeWidth": 2.3, "interpolate": "monotone"},
"encoding": {"x": {"field": "x", "type": "quantitative", "axis": {"orient": "top", "values": [0,0.25,0.5,0.75,1,1.25,1.5,1.75,2,2.25,2.5,2.75,3,3.25,3.5,3.75,4], "labels": false, "tickSize": {"condition": {"test": "abs(datum.value*2-round(datum.value*2))<0.001", "value": -5}, "value": -3}, "title": null}},
"y": {"field": "y", "type": "quantitative", "axis": {"orient": "right", "values": [0,50,100,150,200,250,300,350,400,450,500,550,600,650,700,750,800], "labels": false, "tickSize": {"condition": {"test": "datum.value % 100 == 0", "value": -5}, "value": -3}, "title": null}}}},
{"data": {"values": [{}]}, "mark": {"type": "text", "text": "h", "font": "Liberation Sans", "fontSize": 36, "align": "left", "baseline": "alphabetic"}, "encoding": {"x": {"datum": 0.055, "type": "quantitative", "axis": null}, "y": {"datum": 726, "type": "quantitative", "axis": null}}},
{"data": {"values": [{}]}, "mark": {"type": "text", "text": "Insulin Chain B (1)", "font": "Liberation Sans", "fontSize": 24, "align": "center", "baseline": "alphabetic"}, "encoding": {"x": {"datum": 2.03, "type": "quantitative", "axis": null}, "y": {"datum": 726, "type": "quantitative", "axis": null}}}
], "resolve": {"axis": {"x": "independent", "y": "independent"}}}
],
"config": {
"font": "Liberation Sans",
"view": {"stroke": "#000000", "strokeWidth": 1},
"axis": {"labelFont": "Liberation Sans", "labelFontSize": 13, "labelColor": "#000000", "titleFont": "Liberation Sans", "titleFontSize": 13, "titleFontWeight": "normal", "titleColor": "#000000", "domainColor": "#000000", "tickColor": "#000000", "grid": false, "labelPadding": 2, "labelOverlap": false, "labelFlush": false, "labelBound": false, "domainWidth": 1, "tickWidth": 1, "titlePadding": 16}
}
}
